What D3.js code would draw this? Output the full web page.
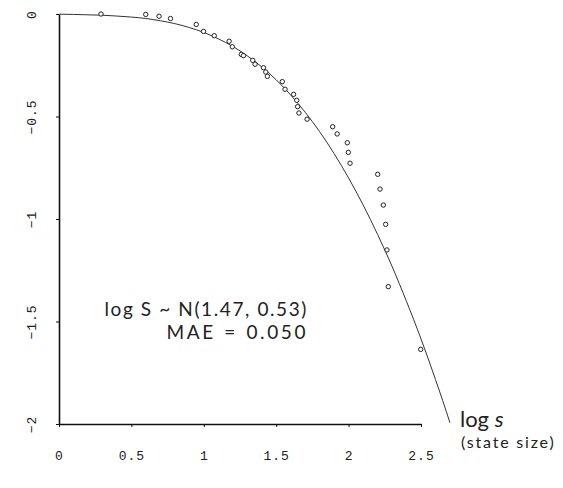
<!DOCTYPE html>
<html>
<head>
<meta charset="utf-8">
<script src="https://cdn.jsdelivr.net/npm/d3@7"></script>
<style>
  html, body { margin: 0; padding: 0; background: #ffffff; }
  svg { display: block; }
</style>
</head>
<body>
<svg id="chart" width="563" height="488"></svg>
<script>
// Observed states: log s (x) vs log of fraction of states at least that size (y)
const obsX = [0.290, 0.599, 0.691, 0.770, 0.948, 0.998, 1.072, 1.175, 1.197, 1.259,
              1.274, 1.338, 1.354, 1.412, 1.428, 1.439, 1.542, 1.561, 1.620, 1.642,
              1.648, 1.657, 1.713, 1.890, 1.921, 1.991, 1.998, 2.010, 2.201, 2.217,
              2.240, 2.256, 2.265, 2.274, 2.498];
const obsY = [0.000, -0.002, -0.011, -0.022, -0.051, -0.085, -0.106, -0.133, -0.160, -0.197,
              -0.203, -0.226, -0.245, -0.262, -0.283, -0.304, -0.330, -0.367, -0.392, -0.421,
              -0.452, -0.483, -0.513, -0.550, -0.585, -0.628, -0.675, -0.728, -0.782, -0.854,
              -0.932, -1.026, -1.151, -1.330, -1.636];

// Fitted lognormal curve
const fitX = [0.0, 0.1, 0.2, 0.3, 0.4, 0.5, 0.6, 0.7, 0.8, 0.9, 1.0, 1.1, 1.2, 1.3, 1.4,
              1.5, 1.6, 1.7, 1.8, 1.9, 2.0, 2.1, 2.2, 2.3, 2.4, 2.5, 2.6, 2.65, 2.7];
const fitY = [-0.001, -0.002, -0.004, -0.006, -0.010, -0.015, -0.022, -0.033, -0.047, -0.066,
              -0.090, -0.121, -0.158, -0.204, -0.258, -0.321, -0.395, -0.479, -0.574, -0.681,
              -0.800, -0.931, -1.075, -1.231, -1.402, -1.585, -1.783, -1.886, -1.994];

const xTicks = [0, 0.5, 1, 1.5, 2, 2.5];
const xTickLabels = ["0", "0.5", "1", "1.5", "2", "2.5"];
const yTicks = [0, -0.5, -1, -1.5, -2];
const yTickLabels = ["0", "\u22120.5", "\u22121", "\u22121.5", "\u22122"];

const annotLine1 = "log S ~ N(1.47, 0.53)";
const annotLine2 = "MAE = 0.050";

const svg = d3.select("#chart");

const x = d3.scaleLinear().domain([0, 2.5]).range([59, 421]);
const y = d3.scaleLinear().domain([-2, 0]).range([424, 14]);

const monoFont = "'Liberation Mono', 'DejaVu Sans Mono', monospace";

// X axis
const xAxis = d3.axisBottom(x)
  .tickValues(xTicks)
  .tickFormat((d, i) => xTickLabels[i])
  .tickSizeInner(3)
  .tickSizeOuter(0);
const gx = svg.append("g").attr("transform", `translate(0,${y(-2)})`).call(xAxis);
gx.select(".domain").attr("stroke", "#111").attr("stroke-width", 1.6);
gx.selectAll(".tick line").attr("stroke", "#111");
gx.selectAll(".tick text")
  .attr("y", 36).attr("dy", 0)
  .attr("fill", "#222")
  .style("font-family", monoFont)
  .style("font-size", "13px")
  .style("letter-spacing", "1px");

// Y axis
const yAxis = d3.axisLeft(y)
  .tickValues(yTicks)
  .tickFormat((d, i) => yTickLabels[i])
  .tickSizeInner(3)
  .tickSizeOuter(0);
const gy = svg.append("g").attr("transform", `translate(${x(0)},0)`).call(yAxis);
gy.select(".domain").attr("stroke", "#111").attr("stroke-width", 1.6);
gy.selectAll(".tick line").attr("stroke", "#111");
gy.selectAll(".tick text")
  .attr("x", 0)
  .attr("text-anchor", "middle")
  .attr("transform", "translate(-28,0) rotate(-90)")
  .attr("dy", "0.35em")
  .attr("fill", "#222")
  .style("font-family", monoFont)
  .style("font-size", "13px")
  .style("letter-spacing", "1px");

// Fitted curve
const fitData = fitX.map((v, i) => [v, fitY[i]]);
svg.append("path")
  .datum(fitData)
  .attr("fill", "none")
  .attr("stroke", "#333")
  .attr("stroke-width", 1)
  .attr("d", d3.line().x(d => x(d[0])).y(d => y(d[1])).curve(d3.curveMonotoneX));

// Observed points
const obs = obsX.map((v, i) => [v, obsY[i]]);
svg.append("g").selectAll("circle")
  .data(obs)
  .join("circle")
  .attr("cx", d => x(d[0]))
  .attr("cy", d => y(d[1]))
  .attr("r", 2.2)
  .attr("fill", "#fff")
  .attr("stroke", "#222")
  .attr("stroke-width", 1);

// Annotation
const annotFont = "Lato, 'Open Sans', sans-serif";
svg.append("text")
  .attr("x", 308).attr("y", 316)
  .attr("text-anchor", "end")
  .attr("fill", "#222")
  .style("font-family", annotFont)
  .style("font-size", "19px")
  .style("letter-spacing", "1.6px")
  .text(annotLine1);
svg.append("text")
  .attr("x", 308).attr("y", 339)
  .attr("text-anchor", "end")
  .attr("fill", "#222")
  .style("font-family", annotFont)
  .style("font-size", "19px")
  .style("letter-spacing", "2.6px")
  .style("word-spacing", "1px")
  .text(annotLine2);

// Axis title
const xt = svg.append("text")
  .attr("x", 460).attr("y", 427)
  .attr("fill", "#222")
  .style("font-family", annotFont)
  .style("font-size", "22px");
xt.append("tspan").text("log ");
xt.append("tspan").style("font-style", "italic").text("s");
svg.append("text")
  .attr("x", 461).attr("y", 448)
  .attr("fill", "#222")
  .style("font-family", annotFont)
  .style("font-size", "16px")
  .style("letter-spacing", "1.8px")
  .text("(state size)");
</script>
</body>
</html>
